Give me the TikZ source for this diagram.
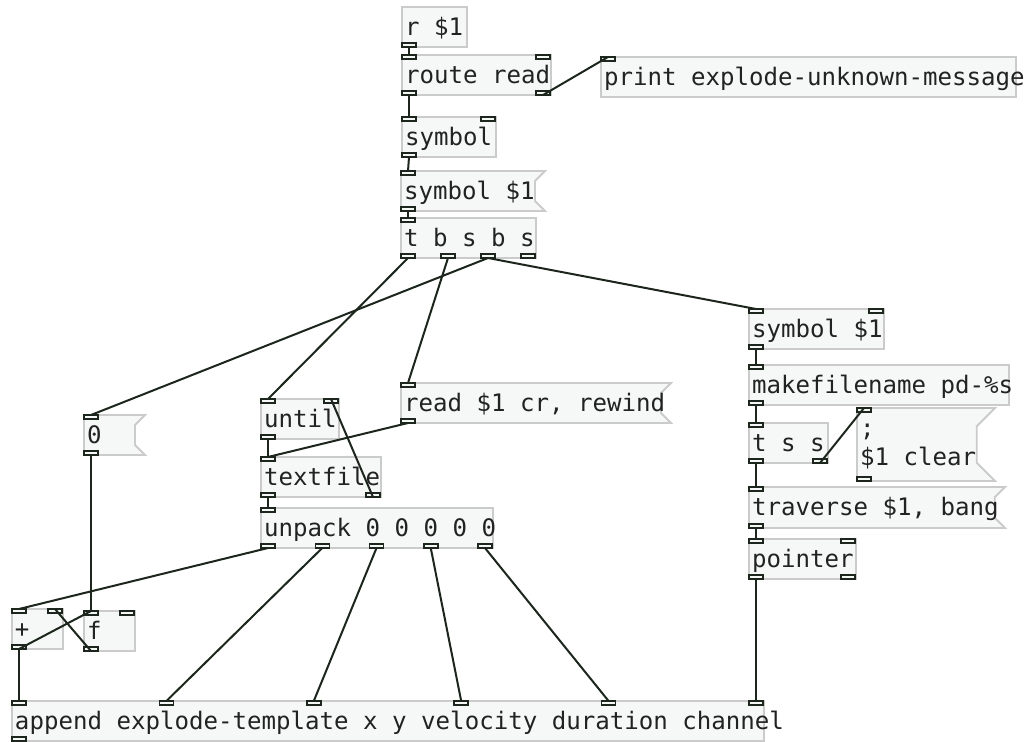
\documentclass[tikz,border=0pt]{standalone}
\usepackage{fontspec}
\newfontfamily\pdfont{DejaVu Sans Mono}
\definecolor{boxfill}{RGB}{246,247,247}
\definecolor{boxline}{RGB}{203,203,203}
\definecolor{wirec}{RGB}{28,38,28}
\definecolor{textc}{RGB}{34,34,34}
\tikzset{
  objbox/.style={draw=boxline, fill=boxfill, line width=1.8pt},
  port/.style={draw=wirec, fill=boxfill, line width=1.5pt, rectangle,
    minimum width=14pt, minimum height=4pt, inner sep=0pt, outer sep=0pt},
  wire/.style={draw=wirec, line width=2pt},
  pdtext/.style={font=\pdfont\fontsize{24.1}{29}\selectfont, text=textc,
    inner sep=0pt, outer sep=0pt, anchor=base west},
}
% ports: name, l, t, r, b, nin, nout
\newcommand\pdports[7]{%
  \ifnum#6>0
    \foreach \k in {1,...,#6}{%
      \ifnum#6>1 \pgfmathsetmacro\px{#2+(\k-1)*(#4-#2-15)/(#6-1)}\else\pgfmathsetmacro\px{#2}\fi
      \node[port, anchor=north west] (#1-i\k) at (\px,#3) {};}%
  \fi
  \ifnum#7>0
    \foreach \k in {1,...,#7}{%
      \ifnum#7>1 \pgfmathsetmacro\px{#2+(\k-1)*(#4-#2-15)/(#7-1)}\else\pgfmathsetmacro\px{#2}\fi
      \node[port, anchor=south west] (#1-o\k) at (\px,#5) {};}%
  \fi}
% object: name, l, t, r, b, nin, nout, text
\newcommand\pdobj[8]{%
  \path[objbox] (#2,#3) rectangle (#4,#5);
  \node[pdtext] (#1) at (#2+3,#3+28) {#8};
  \pdports{#1}{#2}{#3}{#4}{#5}{#6}{#7}}
% message: name, l, t, r, b, nin, nout, text
\newcommand\pdmsg[8]{%
  \pgfmathsetmacro\fc{(#5-#3)/4}%
  \path[objbox] (#2,#3) -- (#4,#3) -- (#4-\fc,#3+\fc) -- (#4-\fc,#5-\fc) -- (#4,#5) -- (#2,#5) -- cycle;
  \node[pdtext] (#1) at (#2+3,#3+28) {#8};
  \pdports{#1}{#2}{#3}{#4}{#5}{#6}{#7}}
\begin{document}
\begin{tikzpicture}[x=1pt,y=-1pt]
\fill[white] (0,0) rectangle (1029,742);
\useasboundingbox (0,0) rectangle (1029,742);

\pdobj{r1}{402}{7}{467}{47}{0}{1}{r \$1}
\pdobj{route}{402}{55}{551}{95}{2}{2}{route read}
\pdobj{print}{601}{57}{1016}{97}{1}{0}{print explode-unknown-message}
\pdobj{symA}{402}{117}{496}{157}{2}{1}{symbol}
\pdmsg{msgSym}{401}{171}{545}{211}{1}{1}{symbol \$1}
\pdobj{tbsbs}{401}{218}{536}{258}{1}{4}{t b s b s}
\pdobj{symB}{749}{309}{884}{349}{2}{1}{symbol \$1}
\pdobj{mkfn}{749}{365}{1009}{405}{1}{1}{makefilename pd-\%s}
\pdobj{tss}{749}{423}{828}{463}{1}{2}{t s s}
\pdmsg{clear}{857}{408}{995}{481}{1}{1}{;}
\node[pdtext] (clear-l2) at (860,465) {\$1 clear};
\pdmsg{trav}{749}{487}{1005}{528}{1}{1}{traverse \$1, bang}
\pdobj{ptr}{749}{539}{856}{579}{2}{2}{pointer}
\pdmsg{zero}{84}{415}{145}{455}{1}{1}{0}
\pdobj{until}{261}{399}{339}{439}{2}{1}{until}
\pdmsg{read}{401}{383}{671}{423}{1}{1}{read \$1 cr, rewind}
\pdobj{tf}{261}{457}{381}{497}{1}{2}{textfile}
\pdobj{unpack}{261}{508}{493}{548}{1}{5}{unpack 0 0 0 0 0}
\pdobj{plus}{12}{609}{63}{649}{2}{1}{+}
\pdobj{f}{84}{611}{135}{651}{2}{1}{f}
\pdobj{append}{12}{701}{764}{741}{6}{1}{append explode-template x y velocity duration channel}

\foreach \a/\b in {r1-o1/route-i1, route-o1/symA-i1, route-o2/print-i1,
  symA-o1/msgSym-i1, msgSym-o1/tbsbs-i1, tbsbs-o1/until-i1, tbsbs-o2/read-i1,
  tbsbs-o3/zero-i1, tbsbs-o3/symB-i1, symB-o1/mkfn-i1, mkfn-o1/tss-i1,
  tss-o1/trav-i1, tss-o2/clear-i1, trav-o1/ptr-i1, ptr-o1/append-i6,
  zero-o1/f-i1, until-o1/tf-i1, read-o1/tf-i1, tf-o1/unpack-i1, tf-o2/until-i2,
  unpack-o1/plus-i1, unpack-o2/append-i2, unpack-o3/append-i3,
  unpack-o4/append-i4, unpack-o5/append-i5, plus-o1/append-i1,
  plus-o1/f-i1, f-o1/plus-i2}
  \draw[wire] (\a.south) -- (\b.north);
\end{tikzpicture}
\end{document}
